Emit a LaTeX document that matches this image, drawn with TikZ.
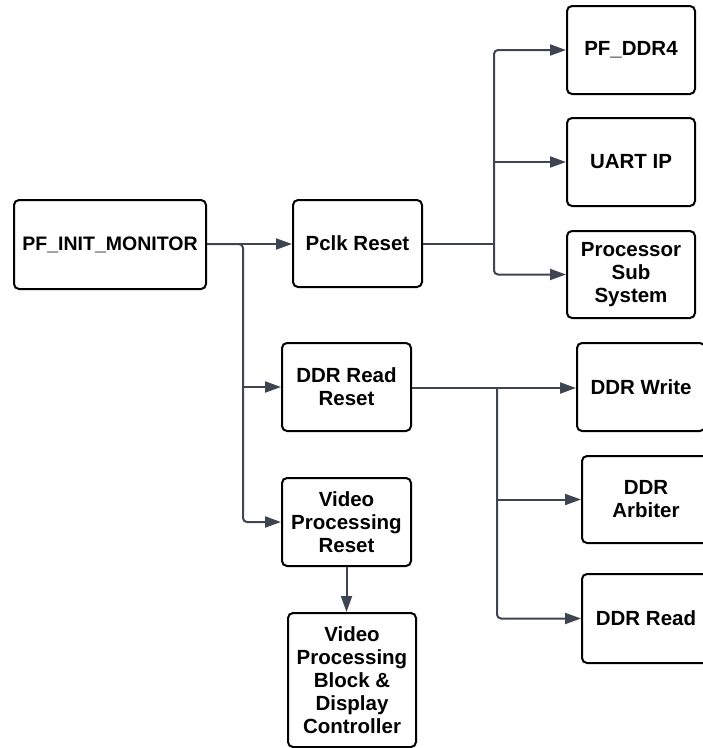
\documentclass[tikz,border=0pt]{standalone}
\usepackage{fontspec}
\setmainfont{Liberation Sans}
\usetikzlibrary{arrows.meta}
\definecolor{linec}{HTML}{3E4450}
\tikzset{
  blk/.style={draw=black, line width=2pt, rounded corners=5pt, fill=white,
    align=center, inner sep=0pt,
    font=\fontsize{20.5}{23}\selectfont\bfseries},
  conn/.style={draw=linec, line width=2pt, rounded corners=4pt,
    -{Triangle[length=16pt,width=11pt]}},
  plain/.style={draw=linec, line width=2pt, rounded corners=4pt}
}
\begin{document}
\begin{tikzpicture}[x=1pt,y=-1pt]
\useasboundingbox (0,0) rectangle (703,748);
\clip (0,0) rectangle (703,748);
% nodes
\node[blk, minimum width=192pt, minimum height=89pt, font=\fontsize{19.5}{23}\selectfont\bfseries] (init) at (110,244.5) {PF\_INIT\_MONITOR};
\node[blk, minimum width=129pt, minimum height=87pt] (pclk) at (357.5,243.5) {Pclk Reset};
\node[blk, minimum width=128pt, minimum height=88pt] (ddr4) at (631,50) {PF\_DDR4};
\node[blk, minimum width=128pt, minimum height=88pt] (uart) at (631,162) {UART IP};
\node[blk, minimum width=128pt, minimum height=87pt] (proc) at (631,274.5) {Processor\\Sub\\System};
\node[blk, minimum width=129pt, minimum height=88pt] (ddrrr) at (346.5,387) {DDR Read\\Reset};
\node[blk, minimum width=129pt, minimum height=88pt] (vpr) at (346.5,522) {Video\\Processing\\Reset};
\node[blk, minimum width=128pt, minimum height=134pt] (vpb) at (352,680) {Video\\Processing\\Block \&\\Display\\Controller};
\node[blk, minimum width=128pt, minimum height=88pt] (ddrw) at (641,387) {DDR Write};
\node[blk, minimum width=128pt, minimum height=87pt] (ddrarb) at (646,499.5) {DDR\\Arbiter};
\node[blk, minimum width=128pt, minimum height=89pt] (ddrrd) at (646,618.5) {DDR Read};
% junction coordinates
\coordinate (j1) at (243,244);
\coordinate (j2) at (494,244);
\coordinate (j3) at (497,388);
% connectors from PF_INIT_MONITOR
\draw[conn] (init.east |- j1) -- (pclk.west |- j1);
\draw[conn] (init.east |- j1) -- (j1) |- (vpr.west);
\draw[conn] (j1 |- ddrrr.west) -- (ddrrr.west);
% connectors from Pclk Reset
\draw[plain] (pclk.east |- j2) -- (j2);
\draw[conn] (j2) |- (ddr4.west);
\draw[conn] (j2) |- (proc.west);
\draw[conn] (j2 |- uart.west) -- (uart.west);
% connectors from DDR Read Reset
\draw[conn] (ddrrr.east |- j3) -- (ddrw.west |- j3);
\draw[conn] (j3) |- (ddrrd.west);
\draw[conn] (j3 |- ddrarb.west) -- (ddrarb.west);
% video
\draw[conn] (vpr.south) -- (vpr.south |- vpb.north);
\end{tikzpicture}
\end{document}
